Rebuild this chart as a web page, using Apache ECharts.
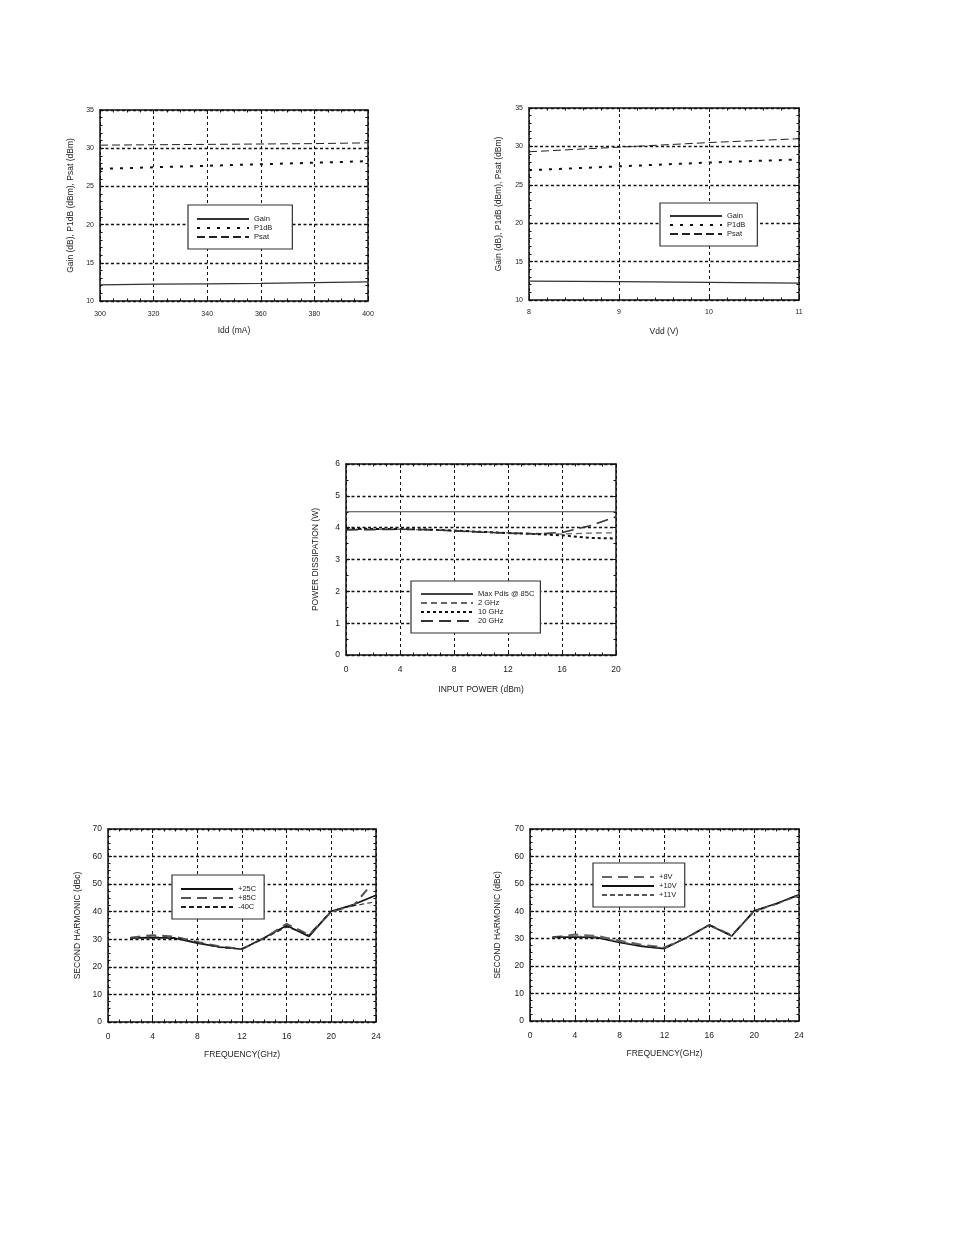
<!DOCTYPE html>
<html><head><meta charset="utf-8">
<script src="https://cdn.jsdelivr.net/npm/echarts@6/dist/echarts.min.js"></script>
<style>html,body{margin:0;padding:0;background:#fff}#c{width:954px;height:1235px}</style>
</head><body><div id="c"></div>
<script>
// ---- Chart 1: vs Idd ----
const idd = [300, 320, 340, 360, 380, 400];
const iddGain = [12.1, 12.2, 12.25, 12.3, 12.4, 12.5];
const iddP1dB = [27.3, 27.5, 27.7, 27.9, 28.1, 28.3];
const iddPsat = [30.4, 30.45, 30.5, 30.55, 30.6, 30.7];
// ---- Chart 2: vs Vdd ----
const vdd = [8, 9, 10, 11];
const vddGain = [12.45, 12.4, 12.3, 12.2];
const vddP1dB = [26.9, 27.4, 27.9, 28.3];
const vddPsat = [29.3, 29.9, 30.5, 31.0];
// ---- Chart 3: power dissipation ----
const pin = [0, 2, 4, 6, 8, 10, 12, 14, 16, 18, 20];
const pdisMax = [4.5, 4.5, 4.5, 4.5, 4.5, 4.5, 4.5, 4.5, 4.5, 4.5, 4.5];
const pdis2 = [3.95, 3.95, 3.95, 3.93, 3.90, 3.87, 3.84, 3.82, 3.80, 3.83, 3.84];
const pdis10 = [3.97, 3.96, 3.96, 3.94, 3.91, 3.87, 3.83, 3.80, 3.76, 3.68, 3.66];
const pdis20 = [3.93, 3.94, 3.95, 3.94, 3.90, 3.86, 3.83, 3.80, 3.85, 4.05, 4.34];
// ---- Chart 4: second harmonic vs temperature ----
const freq = [2, 4, 6, 8, 10, 12, 14, 16, 18, 20, 22, 24];
const freq85 = [2, 4, 6, 8, 10, 12, 14, 16, 18, 20, 22, 23.2];
const sh25C = [30.5, 30.6, 30.4, 28.6, 27.2, 26.4, 30.6, 35.0, 31.0, 40.2, 42.6, 46.0];
const sh85C = [30.6, 31.5, 30.9, 29.0, 27.4, 26.5, 30.4, 35.6, 31.6, 40.0, 42.3, 48.0];
const shM40C = [30.4, 30.8, 30.6, 28.8, 27.0, 26.6, 30.3, 34.5, 31.5, 40.3, 42.2, 43.6];
// ---- Chart 5: second harmonic vs Vdd ----
const sh8V = [30.5, 31.5, 31.0, 29.3, 27.8, 26.8, 30.4, 35.0, 31.2, 40.0, 42.7, 46.0];
const sh10V = [30.5, 30.6, 30.4, 28.6, 27.2, 26.4, 30.5, 35.0, 31.0, 40.2, 42.8, 46.0];
const sh11V = [30.5, 30.9, 30.6, 28.9, 27.5, 26.6, 30.4, 35.0, 31.0, 40.1, 42.7, 45.8];

const pairs = (xs, ys) => xs.map((x, i) => [x, ys[i]]);
const FONT = 'Liberation Sans, Arial, sans-serif';
const TXT = '#222';

const grids = [
  {left: 100, top: 110, width: 268, height: 191},
  {left: 529, top: 108, width: 270, height: 192},
  {left: 346, top: 464, width: 270, height: 191},
  {left: 108, top: 829, width: 268, height: 193},
  {left: 530, top: 829, width: 269, height: 192}
];

const xSpec = [
  {min: 300, max: 400, interval: 20, minor: 4, name: 'Idd (mA)', gap: 25, fs: 7, nfs: 8.5, margin: 10},
  {min: 8, max: 11, interval: 1, minor: 5, name: 'Vdd (V)', gap: 27, fs: 7, nfs: 8.5, margin: 9},
  {min: 0, max: 20, interval: 4, minor: 4, name: 'INPUT POWER (dBm)', gap: 30, fs: 8.5, nfs: 8.5, margin: 10},
  {min: 0, max: 24, interval: 4, minor: 4, name: 'FREQUENCY(GHz)', gap: 28, fs: 8.5, nfs: 8.5, margin: 10},
  {min: 0, max: 24, interval: 4, minor: 4, name: 'FREQUENCY(GHz)', gap: 28, fs: 8.5, nfs: 8.5, margin: 10}
];
const ySpec = [
  {min: 10, max: 35, interval: 5, minor: 5, name: 'Gain (dB), P1dB (dBm), Psat (dBm)', gap: 25, fs: 7, nfs: 8.5},
  {min: 10, max: 35, interval: 5, minor: 5, name: 'Gain (dB), P1dB (dBm), Psat (dBm)', gap: 26, fs: 7, nfs: 8.5},
  {min: 0, max: 6, interval: 1, minor: 2, name: 'POWER DISSIPATION (W)', gap: 26, fs: 8.5, nfs: 8.5},
  {min: 0, max: 70, interval: 10, minor: 4, name: 'SECOND HARMONIC (dBc)', gap: 26, fs: 8.5, nfs: 8.5},
  {min: 0, max: 70, interval: 10, minor: 4, name: 'SECOND HARMONIC (dBc)', gap: 28, fs: 8.5, nfs: 8.5}
];

const xAxes = [], yAxes = [];
grids.forEach((g, i) => {
  const xs = xSpec[i], ys = ySpec[i];
  const common = {
    axisLine: {show: true, onZero: false, lineStyle: {color: '#111', width: 1.5}},
    axisTick: {show: true, inside: true, length: 4, lineStyle: {color: '#111', width: 1}},
    minorTick: {show: true, splitNumber: 0, length: 2.5, lineStyle: {color: '#111', width: 1}}
  };
  xAxes.push(Object.assign({}, common, {
    type: 'value', gridIndex: i, position: 'bottom', min: xs.min, max: xs.max, interval: xs.interval,
    minorTick: Object.assign({}, common.minorTick, {splitNumber: xs.minor}),
    name: xs.name, nameLocation: 'middle', nameGap: xs.gap,
    nameTextStyle: {fontFamily: FONT, fontSize: xs.nfs, color: TXT},
    axisLabel: {fontFamily: FONT, fontSize: xs.fs, color: TXT, margin: xs.margin, showMinLabel: true, showMaxLabel: true},
    splitLine: {show: true, lineStyle: {color: '#111', type: [3, 3], width: 1}}
  }));
  xAxes.push(Object.assign({}, common, {
    type: 'value', gridIndex: i, position: 'top', min: xs.min, max: xs.max, interval: xs.interval,
    minorTick: Object.assign({}, common.minorTick, {splitNumber: xs.minor}),
    axisLabel: {show: false}, splitLine: {show: false}
  }));
  yAxes.push(Object.assign({}, common, {
    type: 'value', gridIndex: i, position: 'left', min: ys.min, max: ys.max, interval: ys.interval,
    minorTick: Object.assign({}, common.minorTick, {splitNumber: ys.minor}),
    name: ys.name, nameLocation: 'middle', nameGap: ys.gap, nameRotate: 90,
    nameTextStyle: {fontFamily: FONT, fontSize: ys.nfs, color: TXT},
    axisLabel: {fontFamily: FONT, fontSize: ys.fs, color: TXT, margin: 6, showMinLabel: true, showMaxLabel: true},
    splitLine: {show: true, lineStyle: {color: '#111', type: [3, 2.5], width: 1.4}}
  }));
  yAxes.push(Object.assign({}, common, {
    type: 'value', gridIndex: i, position: 'right', min: ys.min, max: ys.max, interval: ys.interval,
    minorTick: Object.assign({}, common.minorTick, {splitNumber: ys.minor}),
    axisLabel: {show: false}, splitLine: {show: false}
  }));
});

function line(name, gi, data, style) {
  const ls = Object.assign({color: '#111', width: 1.2, type: 'solid'}, style);
  return {
    type: 'line', name: name, xAxisIndex: gi * 2, yAxisIndex: gi * 2, data: data,
    symbol: 'none', showSymbol: false, silent: true, z: 5,
    itemStyle: {color: ls.color, opacity: 0},
    lineStyle: ls
  };
}

const gainS = {color: '#333', width: 1.3, type: 'solid'};
const p1dbS = {color: '#111', width: 2, type: [3, 7]};
const psatS = {color: '#222', width: 1, type: [8, 4]};

const series = [
  line('Gain', 0, pairs(idd, iddGain), gainS),
  line('P1dB', 0, pairs(idd, iddP1dB), p1dbS),
  line('Psat', 0, pairs(idd, iddPsat), psatS),
  line('Gain', 1, pairs(vdd, vddGain), gainS),
  line('P1dB', 1, pairs(vdd, vddP1dB), p1dbS),
  line('Psat', 1, pairs(vdd, vddPsat), psatS),
  line('Max Pdis @ 85C', 2, pairs(pin, pdisMax), {color: '#444', width: 1.2}),
  line('2 GHz', 2, pairs(pin, pdis2), {color: '#666', width: 1.3, type: [6, 4]}),
  line('10 GHz', 2, pairs(pin, pdis10), {color: '#111', width: 2, type: [3, 3]}),
  line('20 GHz', 2, pairs(pin, pdis20), {color: '#333', width: 1.6, type: [12, 6]}),
  line('+25C', 3, pairs(freq, sh25C), {color: '#111', width: 1.6}),
  line('+85C', 3, pairs(freq85, sh85C), {color: '#555', width: 2, type: [10, 6]}),
  line('-40C', 3, pairs(freq, shM40C), {color: '#222', width: 1.1, type: [5, 3]}),
  line('+8V', 4, pairs(freq, sh8V), {color: '#666', width: 2, type: [10, 6]}),
  line('+10V', 4, pairs(freq, sh10V), {color: '#111', width: 1.6}),
  line('+11V', 4, pairs(freq, sh11V), {color: '#555', width: 1.3, type: [5, 3]})
];

function legend(data, left, top, pad) {
  return {
    data: data, orient: 'vertical', left: left, top: top, padding: pad,
    itemWidth: 52, itemHeight: 8, itemGap: 1, selectedMode: false,
    itemStyle: {opacity: 0, borderWidth: 0},
    lineStyle: {opacity: 1},
    backgroundColor: '#fff', borderColor: '#333', borderWidth: 1.2, z: 10,
    textStyle: {fontFamily: FONT, fontSize: 7.5, color: TXT, padding: [0, 0, 0, 0]}
  };
}

const option = {
  animation: false,
  backgroundColor: '#fff',
  grid: grids.map(g => Object.assign({show: false, containLabel: false}, g)),
  xAxis: xAxes,
  yAxis: yAxes,
  legend: [
    legend(['Gain', 'P1dB', 'Psat'], 188, 205, [10, 20, 8, 8]),
    legend(['Gain', 'P1dB', 'Psat'], 660, 203, [9, 12, 8, 9]),
    legend(['Max Pdis @ 85C', '2 GHz', '10 GHz', '20 GHz'], 411, 581, [9, 6, 8, 9]),
    legend(['+25C', '+85C', '-40C'], 172, 875, [10, 8, 8, 8]),
    legend(['+8V', '+10V', '+11V'], 593, 863, [10, 8, 8, 8])
  ],
  series: series
};

const chart = echarts.init(document.getElementById('c'), null, {renderer: 'canvas'});
chart.setOption(option);
</script>
</body></html>
